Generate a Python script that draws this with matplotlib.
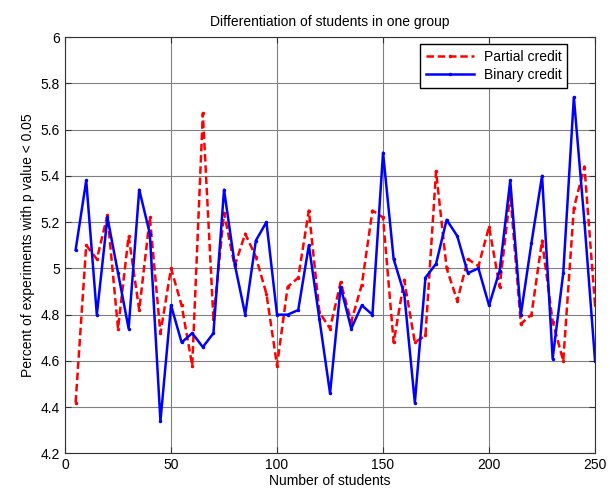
import matplotlib.pyplot as plt
import numpy as np

plt.rcParams['font.family'] = ['Liberation Sans', 'DejaVu Sans']

# number of students per group size
n_students = np.arange(5, 255, 5)

partial_credit = [4.42, 5.10, 5.04, 5.23, 4.74, 5.14, 4.82, 5.22, 4.72, 5.00,
                  4.84, 4.58, 5.67, 4.78, 5.24, 5.01, 5.15, 5.05, 4.89, 4.58,
                  4.92, 4.96, 5.25, 4.81, 4.74, 4.94, 4.77, 4.93, 5.25, 5.22,
                  4.68, 4.95, 4.68, 4.71, 5.42, 5.00, 4.86, 5.04, 5.01, 5.18,
                  4.92, 5.32, 4.76, 4.80, 5.12, 4.77, 4.60, 5.26, 5.44, 4.84]

binary_credit = [5.08, 5.38, 4.80, 5.22, 4.98, 4.74, 5.34, 5.15, 4.34, 4.84,
                 4.68, 4.72, 4.66, 4.72, 5.34, 5.02, 4.80, 5.12, 5.20, 4.80,
                 4.80, 4.82, 5.10, 4.78, 4.46, 4.92, 4.74, 4.84, 4.80, 5.50,
                 5.04, 4.89, 4.42, 4.96, 5.02, 5.21, 5.14, 4.98, 5.00, 4.84,
                 4.99, 5.38, 4.80, 5.11, 5.40, 4.61, 4.98, 5.74, 5.20, 4.60]

fig = plt.figure(figsize=(6.1, 4.96), dpi=100)
ax = fig.add_axes([0.1066, 0.0857, 0.8689, 0.8397])

ax.plot(n_students, partial_credit, linestyle=(0, (3, 1.5)), color='red', marker='.',
        markersize=3, linewidth=1.8, label='Partial credit')
ax.plot(n_students, binary_credit, '-', color='blue', marker='.', markersize=3,
        linewidth=1.8, label='Binary credit')

ax.set_xlim(0, 250)
ax.set_ylim(4.2, 6)
ax.set_xticks(np.arange(0, 251, 50))
ax.set_yticks(np.arange(4.2, 6.01, 0.2))
ax.set_yticklabels(['4.2', '4.4', '4.6', '4.8', '5', '5.2', '5.4', '5.6', '5.8', '6'])
ax.grid(True, color='#808080', linewidth=0.8)
ax.tick_params(direction='in', top=True, right=True, labelsize=10, length=4, color='#333333')
for s in ax.spines.values():
    s.set_color('#333333')

ax.set_title('Differentiation of students in one group', fontsize=10, pad=8)
ax.set_xlabel('Number of students', fontsize=10, labelpad=1)
ax.set_ylabel('Percent of experiments with p value < 0.05', fontsize=10, labelpad=4)

leg = ax.legend(loc='upper right', bbox_to_anchor=(0.948, 0.982), fontsize=10,
                fancybox=False, framealpha=1, edgecolor='black', borderaxespad=0,
                handlelength=3.5, handletextpad=0.7, labelspacing=0.3, borderpad=0.4)
leg.get_frame().set_linewidth(1.0)

fig.savefig('out.png', dpi=100)
